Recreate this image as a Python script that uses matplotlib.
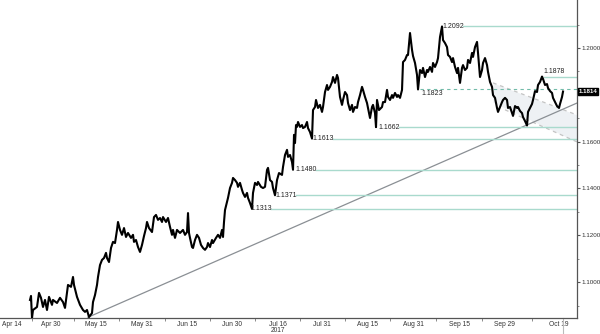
import matplotlib
matplotlib.use("Agg")
import matplotlib.pyplot as plt
from matplotlib.ticker import FixedLocator, NullFormatter

plt.rcParams['font.family'] = ['Liberation Sans', 'DejaVu Sans']

# trading-time position along the axis and EUR/USD close
t = [30, 31, 32, 33, 37, 39, 41, 43, 45, 47, 49, 52, 53, 57, 60, 63, 65, 68, 71, 73,
     74, 77, 80, 83, 85, 87, 89, 92, 93, 95, 97, 98, 100, 102, 104, 106, 107, 109, 111, 113,
     115, 117, 118, 120, 122, 124, 126, 128, 131, 133, 134, 136, 138, 140, 142, 144, 146, 147, 149, 152,
     154, 156, 158, 160, 162, 163, 166, 168, 170, 172, 173, 175, 177, 180, 183, 185, 187, 188, 189, 190,
     192, 193, 195, 197, 199, 201, 203, 205, 207, 208, 210, 212, 213, 216, 218, 220, 222, 223, 224, 225,
     227, 228, 230, 232, 233, 235, 237, 238, 240, 242, 243, 245, 247, 248, 250, 252, 253, 255, 257, 258,
     261, 263, 265, 267, 268, 270, 272, 273, 275, 277, 279, 282, 283, 285, 287, 288, 290, 292, 293, 294,
     295, 296, 297, 298, 300, 302, 303, 305, 307, 308, 310, 312, 313, 315, 316, 318, 320, 322, 323, 325,
     327, 328, 330, 332, 333, 335, 337, 338, 340, 342, 343, 345, 347, 348, 350, 352, 353, 355, 357, 358,
     360, 362, 363, 365, 367, 368, 370, 372, 373, 375, 376, 377, 379, 382, 383, 385, 387, 388, 390, 392,
     393, 395, 397, 398, 400, 402, 403, 405, 407, 408, 410, 412, 413, 415, 417, 418, 420, 422, 423, 425,
     427, 428, 430, 432, 433, 435, 437, 438, 440, 442, 443, 445, 447, 448, 450, 452, 453, 455, 457, 458,
     460, 462, 463, 465, 467, 468, 470, 472, 473, 475, 477, 478, 480, 482, 483, 485, 487, 488, 490, 492,
     493, 495, 497, 498, 500, 502, 503, 505, 507, 508, 510, 512, 513, 515, 517, 518, 520, 522, 523, 525,
     527, 528, 530, 532, 533, 535, 537, 538, 540, 542, 543, 545, 547, 548, 550, 552, 553, 555, 557, 559,
     560, 562, 563]
price = [1.0924, 1.0941, 1.0847, 1.0881, 1.0894, 1.0954, 1.0933, 1.0894, 1.0924, 1.0881,
         1.0937, 1.0903, 1.0924, 1.0911, 1.0933, 1.0915, 1.0890, 1.0988, 1.0980, 1.1022,
         1.0988, 1.0937, 1.0903, 1.0881, 1.0873, 1.0881, 1.0851, 1.0868, 1.0915, 1.0945,
         1.0988, 1.1022, 1.1073, 1.1095, 1.1103, 1.1125, 1.1103, 1.1086, 1.1146, 1.1172,
         1.1167, 1.1223, 1.1257, 1.1223, 1.1202, 1.1231, 1.1193, 1.1210, 1.1189, 1.1202,
         1.1172, 1.1180, 1.1150, 1.1129, 1.1159, 1.1197, 1.1231, 1.1257, 1.1231, 1.1214,
         1.1278, 1.1287, 1.1266, 1.1274, 1.1257, 1.1278, 1.1257, 1.1274, 1.1236, 1.1202,
         1.1223, 1.1189, 1.1223, 1.1210, 1.1223, 1.1202, 1.1214, 1.1295, 1.1210, 1.1189,
         1.1150, 1.1146, 1.1180, 1.1202, 1.1189, 1.1159, 1.1146, 1.1138, 1.1150, 1.1167,
         1.1150, 1.1180, 1.1167, 1.1189, 1.1202, 1.1189, 1.1223, 1.1193, 1.1257, 1.1308,
         1.1342, 1.1360, 1.1402, 1.1424, 1.1445, 1.1436, 1.1424, 1.1407, 1.1424, 1.1394,
         1.1381, 1.1364, 1.1381, 1.1360, 1.1338, 1.1313, 1.1381, 1.1424, 1.1415, 1.1428,
         1.1407, 1.1402, 1.1407, 1.1479, 1.1488, 1.1436, 1.1428, 1.1402, 1.1371, 1.1436,
         1.1466, 1.1458, 1.1492, 1.1543, 1.1565, 1.1535, 1.1543, 1.1513, 1.1480, 1.1629,
         1.1594, 1.1671, 1.1663, 1.1684, 1.1663, 1.1671, 1.1658, 1.1663, 1.1684, 1.1658,
         1.1641, 1.1613, 1.1735, 1.1748, 1.1778, 1.1744, 1.1757, 1.1727, 1.1748, 1.1812,
         1.1842, 1.1821, 1.1834, 1.1855, 1.1876, 1.1851, 1.1885, 1.1872, 1.1791, 1.1757,
         1.1778, 1.1812, 1.1799, 1.1765, 1.1735, 1.1757, 1.1727, 1.1748, 1.1744, 1.1769,
         1.1799, 1.1834, 1.1821, 1.1791, 1.1765, 1.1744, 1.1701, 1.1748, 1.1757, 1.1722,
         1.1662, 1.1778, 1.1735, 1.1748, 1.1769, 1.1769, 1.1821, 1.1791, 1.1778, 1.1799,
         1.1787, 1.1808, 1.1791, 1.1799, 1.1787, 1.1821, 1.1940, 1.1949, 1.1970, 1.1970,
         1.2064, 1.1992, 1.1966, 1.1936, 1.1885, 1.1823, 1.1906, 1.1893, 1.1915, 1.1876,
         1.1906, 1.1898, 1.1919, 1.1898, 1.1936, 1.1919, 1.1940, 1.1957, 1.2047, 1.2092,
         1.2034, 1.2021, 1.2004, 1.1970, 1.1962, 1.1940, 1.1957, 1.1919, 1.1893, 1.1915,
         1.1851, 1.1915, 1.1927, 1.1906, 1.1915, 1.1949, 1.1936, 1.1979, 1.1962, 1.2004,
         1.2026, 1.1979, 1.1876, 1.1906, 1.1936, 1.1957, 1.1927, 1.1898, 1.1855, 1.1834,
         1.1799, 1.1787, 1.1744, 1.1727, 1.1748, 1.1769, 1.1778, 1.1787, 1.1778, 1.1744,
         1.1748, 1.1722, 1.1710, 1.1752, 1.1744, 1.1748, 1.1731, 1.1722, 1.1705, 1.1688,
         1.1669, 1.1727, 1.1744, 1.1761, 1.1778, 1.1816, 1.1812, 1.1842, 1.1855, 1.1878,
         1.1868, 1.1842, 1.1846, 1.1829, 1.1816, 1.1808, 1.1787, 1.1769, 1.1752, 1.1744,
         1.1761, 1.1791, 1.1814]

# support / resistance levels
levels = [1.2092, 1.1878, 1.1823, 1.1662, 1.1613, 1.1480, 1.1371, 1.1313]
level_t = [442, 542, 420, 378, 312, 295, 275, 250]

# trend line and falling channel
trend_t = [88, 577]
trend_p = [1.0850, 1.1765]
chan_t = [493, 577]
chan_upper = [1.1851, 1.1714]
chan_lower = [1.1768, 1.1599]
lower_t = [505, 577]
lower_p = [1.1736, 1.1599]

tick_pos = [12, 51, 96, 142, 187, 232, 278, 322, 367, 413, 459, 504, 559]
tick_lab = ["Apr 14", "Apr 30", "May 15", "May 31", "Jun 15", "Jun 30", "Jul 16\n2017",
            "Jul 31", "Aug 15", "Aug 31", "Sep 15", "Sep 29", "Oct 19"]
y_ticks = [1.10, 1.12, 1.14, 1.16, 1.18, 1.20]
y_labels = ["1.1000", "1.1200", "1.1400", "1.1600", "", "1.2000"]

fig = plt.figure(figsize=(6, 3.34), dpi=100)
ax = fig.add_axes([0, 0.048, 0.9617, 0.952])
x_end = 577

# channel shading and dashed borders
ax.fill_between(chan_t, chan_upper, chan_lower, color="#eef1f4", lw=0, zorder=1)
ax.plot(chan_t, chan_upper, ls=(0, (3, 3)), color="#c4c4c4", lw=0.9, zorder=2)
ax.plot(lower_t, lower_p, ls=(0, (3, 3)), color="#c4c4c4", lw=0.9, zorder=2)

ax.plot(trend_t, trend_p, color="#8a8f94", lw=0.9, zorder=2)

teal = "#a9dacd"
for lv, lt in zip(levels, level_t):
    txt = f"{lv:.4f}"
    if lv == 1.1823:
        ax.plot([lt, x_end], [lv, lv], color="#72bba9", lw=0.8, ls=(0, (3, 3)), zorder=2)
        ax.text(lt + 1, lv - 0.0004, txt, fontsize=5, color="#222", va="top", ha="left", zorder=4)
    elif lv == 1.1878:
        ax.plot([lt + 2, x_end], [lv, lv], color=teal, lw=1.0, zorder=2)
        ax.text(lt + 1, lv + 0.0008, txt, fontsize=5, color="#222", va="bottom", ha="left", zorder=4)
    else:
        ax.plot([lt + 21, x_end], [lv, lv], color=teal, lw=1.0, zorder=2)
        ax.text(lt, lv, txt, fontsize=5, color="#222", va="center", ha="left", zorder=4)

ax.plot(t, price, color="black", lw=1.5, zorder=3)

ax.set_xlim(0, x_end)
ax.set_ylim(1.0847, 1.2205)

for s in ["top", "left"]:
    ax.spines[s].set_visible(False)
for s in ["right", "bottom"]:
    ax.spines[s].set_color("#555555")
    ax.spines[s].set_linewidth(0.9)

ax.set_xticks(tick_pos)
ax.set_xticklabels(tick_lab, fontsize=4.8, color="#333", linespacing=0.95)
mids = [(a + b) / 2 for a, b in zip(tick_pos[:-1], tick_pos[1:])]
ax.xaxis.set_minor_locator(FixedLocator(mids))
ax.xaxis.set_minor_formatter(NullFormatter())
ax.tick_params(axis="x", which="major", length=0, pad=2)
ax.tick_params(axis="x", which="minor", length=2.5, color="#777", direction="out")

ax.yaxis.tick_right()
ax.set_yticks(y_ticks)
ax.set_yticklabels(y_labels, fontsize=4.5, color="#333")
ax.yaxis.set_minor_locator(FixedLocator([1.09, 1.11, 1.13, 1.15, 1.17, 1.19, 1.21]))
ax.tick_params(axis="y", which="major", length=2.5, color="#555", pad=1)
ax.tick_params(axis="y", which="minor", length=1.5, color="#777")

# last price tag
ax.text(1.003, price[-1], f"{price[-1]:.4f}", transform=ax.get_yaxis_transform(),
        fontsize=4.4, color="white", va="center", ha="left", fontweight="bold",
        bbox=dict(facecolor="black", edgecolor="black", pad=0.6), zorder=5)

# current-date marker below the axis
ax.axvline(t[-1], ymin=-0.05, ymax=0, color="#bbbbbb", lw=0.8, clip_on=False)

fig.savefig("out.png", dpi=100)
